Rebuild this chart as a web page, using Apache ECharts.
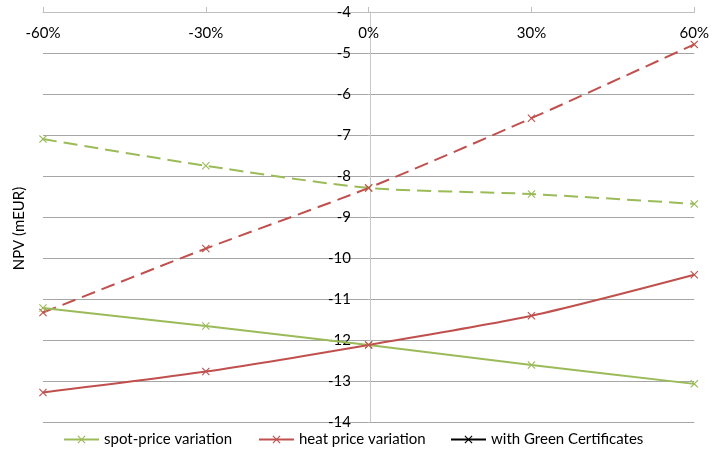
<!DOCTYPE html>
<html>
<head>
<meta charset="utf-8">
<script src="https://cdn.jsdelivr.net/npm/echarts@6/dist/echarts.min.js"></script>
<style>
  html, body { margin: 0; padding: 0; background: #fff; }
  #chart { width: 712px; height: 457px; }
</style>
</head>
<body>
<div id="chart"></div>
<script>
// Variation of the price parameter (%)
const variations = [-60, -30, 0, 30, 60];
const xTicks = [-60, -30, 0, 30, 60];
const yTicks = [-14, -13, -12, -11, -10, -9, -8, -7, -6, -5, -4];

// NPV (mEUR) without green certificates
const spotPrice = [-11.22, -11.66, -12.12, -12.61, -13.07];
const heatPrice = [-13.28, -12.77, -12.12, -11.41, -10.41];
// NPV (mEUR) with green certificates
const spotPriceGC = [-7.10, -7.75, -8.29, -8.44, -8.68];
const heatPriceGC = [-11.33, -9.77, -8.29, -6.59, -4.79];

const GREEN = '#9bbb59';
const RED = '#c0504d';
const FONT = 'Lato';
const CROSS = 'path://M1,0 L5,4 L9,0 L10,1 L6,5 L10,9 L9,10 L5,6 L1,10 L0,9 L4,5 L0,1 Z';

const W = 712, GRID_LEFT = 43, GRID_RIGHT = 15;
// the value axis crosses the category axis in the middle (at 0%)
const Y_AXIS_SHIFT = -(W - GRID_LEFT - GRID_RIGHT) / 2;

const pairs = ys => variations.map((x, i) => [x, ys[i]]);

function lineSeries(name, ys, color, dashed) {
  return {
    name: name,
    type: 'line',
    data: pairs(ys),
    smooth: 0.25,
    symbol: CROSS,
    symbolSize: 8,
    showSymbol: true,
    itemStyle: { color: color },
    lineStyle: { color: color, width: 2, type: dashed ? [14, 7] : 'solid' },
    emphasis: { disabled: true },
    z: dashed ? 3 : 4
  };
}

const chart = echarts.init(document.getElementById('chart'));
const legendBase = {
  bottom: 5,
  itemWidth: 35,
  itemHeight: 10,
  textStyle: { fontFamily: FONT, fontSize: 15, color: '#000' },
  selectedMode: false
};

chart.setOption({
  animation: false,
  backgroundColor: '#fff',
  grid: { left: GRID_LEFT, right: GRID_RIGHT, top: 12, bottom: 35 },
  xAxis: {
    type: 'value',
    position: 'top',
    min: xTicks[0],
    max: xTicks[xTicks.length - 1],
    interval: 30,
    axisLine: { show: true, onZero: false, lineStyle: { color: '#bfbfbf', width: 1 } },
    axisTick: { show: true, inside: false, length: 5, lineStyle: { color: '#bfbfbf' } },
    axisLabel: {
      inside: true,
      margin: 14,
      color: '#000',
      fontFamily: FONT,
      fontSize: 15,
      formatter: '{value}%'
    },
    splitLine: { show: false }
  },
  yAxis: {
    type: 'value',
    position: 'left',
    offset: Y_AXIS_SHIFT,
    min: yTicks[0],
    max: yTicks[yTicks.length - 1],
    interval: 1,
    axisLine: { show: true, onZero: false, lineStyle: { color: '#c8c8c8', width: 1 } },
    axisTick: { show: false },
    axisLabel: { margin: 19, color: '#000', fontFamily: FONT, fontSize: 15 },
    splitLine: { show: true, lineStyle: { color: '#a6a6a6', width: 1 } }
  },
  legend: [
    Object.assign({ left: 58, data: ['spot-price variation'] }, legendBase),
    Object.assign({ left: 253, data: ['heat price variation'] }, legendBase),
    Object.assign({ left: 445, data: ['with Green Certificates'] }, legendBase)
  ],
  graphic: [{
    type: 'text',
    left: 12,
    top: 'middle',
    rotation: Math.PI / 2,
    style: { text: 'NPV (mEUR)', fontFamily: FONT, fontSize: 15, fill: '#000' }
  }],
  series: [
    lineSeries('spot-price variation', spotPrice, GREEN, false),
    lineSeries('heat price variation', heatPrice, RED, false),
    lineSeries('spot-price variation (GC)', spotPriceGC, GREEN, true),
    lineSeries('heat price variation (GC)', heatPriceGC, RED, true),
    {
      name: 'with Green Certificates',
      type: 'line',
      data: [],
      symbol: CROSS,
      symbolSize: 8,
      itemStyle: { color: '#000' },
      lineStyle: { color: '#000', width: 2 }
    }
  ]
});
</script>
</body>
</html>
